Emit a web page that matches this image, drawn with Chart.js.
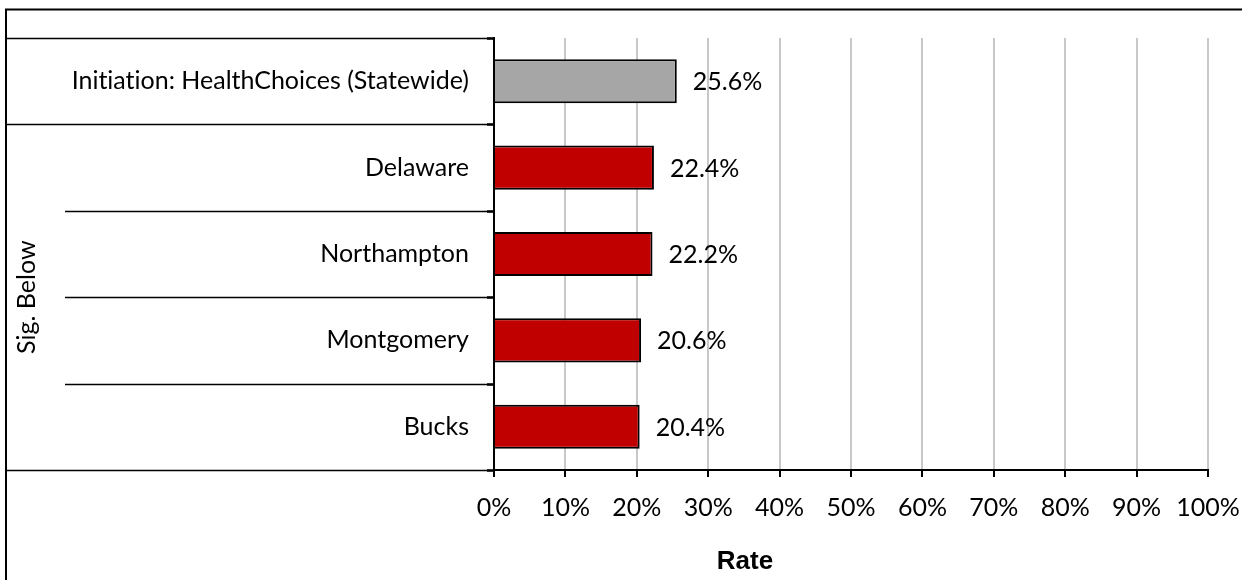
<!DOCTYPE html>
<html>
<head>
<meta charset="utf-8">
<script src="https://cdn.jsdelivr.net/npm/chart.js@4.4.1/dist/chart.umd.min.js"></script>
<style>
  html, body { margin: 0; padding: 0; background: #fff; }
  #wrap { width: 1242px; height: 580px; }
</style>
</head>
<body>
<div id="wrap"><canvas id="c" width="1242" height="580"></canvas></div>
<script>
// Initiation rates, statewide benchmark followed by counties significantly below it
const categories = ['Initiation: HealthChoices (Statewide)', 'Delaware', 'Northampton', 'Montgomery', 'Bucks'];
const rates = [25.6, 22.4, 22.2, 20.6, 20.4];
const rateLabels = ['25.6%', '22.4%', '22.2%', '20.6%', '20.4%'];
const axisTicks = [0, 10, 20, 30, 40, 50, 60, 70, 80, 90, 100];
const groupLabel = 'Sig. Below';
const axisTitle = 'Rate';

const FONT = 'Lato, Carlito, Calibri, sans-serif';
const FONT_SIZE = 25;
const STATE_GRAY = '#a6a6a6';
const COUNTY_RED = '#c00000';

// plain glyph shaping (no "ti" ligature) for all canvas text
const plainText = {
  id: 'plainText',
  beforeDraw(chart) {
    chart.ctx.textRendering = 'optimizeSpeed';
    chart.ctx.fontVariantCaps = 'normal';
  }
};

const decor = {
  id: 'decor',
  afterDraw(chart) {
    const ctx = chart.ctx;
    const ys = chart.scales.y;
    const area = chart.chartArea;
    const axisX = area.left;
    ctx.save();

    // outer frame
    ctx.strokeStyle = '#000';
    ctx.lineWidth = 2;
    ctx.beginPath();
    ctx.moveTo(6, 600);
    ctx.lineTo(6, 9.5);
    ctx.lineTo(1300, 9.5);
    ctx.stroke();

    // row separators in the label column
    const n = categories.length;
    for (let i = 0; i <= n; i++) {
      const y = Math.round(ys.getPixelForValue(i - 0.5)) + 0.5;
      const outer = (i === 0 || i === 1 || i === n);
      ctx.strokeStyle = '#000';
      ctx.lineWidth = 1.5;
      ctx.beginPath();
      ctx.moveTo(outer ? 6 : 65, y);
      ctx.lineTo(axisX, y);
      ctx.stroke();
      ctx.lineWidth = 2.5;
      ctx.beginPath();
      ctx.moveTo(axisX - 7, y);
      ctx.lineTo(axisX, y);
      ctx.stroke();
    }

    // group label for the county rows
    const gTop = ys.getPixelForValue(0.5);
    const gBot = ys.getPixelForValue(n - 0.5);
    ctx.fillStyle = '#000';
    ctx.font = FONT_SIZE + 'px ' + FONT;
    ctx.textAlign = 'center';
    ctx.textBaseline = 'middle';
    ctx.translate(27, (gTop + gBot) / 2);
    ctx.rotate(-Math.PI / 2);
    ctx.fillText(groupLabel, 0, 0);
    ctx.setTransform(1, 0, 0, 1, 0, 0);

    // value labels beyond each bar
    const meta = chart.getDatasetMeta(0);
    ctx.textAlign = 'left';
    ctx.textBaseline = 'middle';
    meta.data.forEach((bar, i) => {
      ctx.fillText(rateLabels[i], bar.x + 16, bar.y + 1);
    });

    // axis title
    ctx.font = 'bold 26px "Liberation Sans", Arial, sans-serif';
    ctx.textAlign = 'center';
    ctx.textBaseline = 'alphabetic';
    ctx.fillText(axisTitle, 745, 569);
    ctx.restore();
  }
};

new Chart(document.getElementById('c'), {
  type: 'bar',
  data: {
    labels: categories,
    datasets: [{
      data: rates,
      backgroundColor: c => c.dataIndex === 0 ? STATE_GRAY : COUNTY_RED,
      borderColor: '#000',
      borderWidth: 2,
      barPercentage: 0.51,
      categoryPercentage: 1
    }]
  },
  options: {
    indexAxis: 'y',
    responsive: false,
    animation: false,
    devicePixelRatio: 1,
    layout: { padding: { top: 38, right: 34, left: 0, bottom: 0 } },
    plugins: { legend: { display: false }, tooltip: { enabled: false } },
    scales: {
      y: {
        type: 'category',
        afterFit: s => { s.width = 494; s.paddingTop = 0; s.paddingBottom = 0; },
        grid: { display: false, drawTicks: false },
        border: { display: true, color: '#000', width: 2 },
        ticks: { color: '#000', padding: 25, font: { family: FONT, size: FONT_SIZE } }
      },
      x: {
        min: axisTicks[0],
        max: axisTicks[axisTicks.length - 1],
        afterBuildTicks: s => { s.ticks = axisTicks.map(v => ({ value: v })); },
        afterFit: s => { s.height = 110; s.paddingLeft = 0; s.paddingRight = 0; },
        grid: { color: '#c8c8c8', lineWidth: 2, tickLength: 7, tickColor: '#000', tickWidth: 2 },
        border: { display: true, color: '#000', width: 2 },
        ticks: {
          color: '#000', padding: 16, maxRotation: 0, autoSkip: false,
          font: { family: FONT, size: FONT_SIZE },
          callback: v => v + '%'
        }
      }
    }
  },
  plugins: [plainText, decor]
});
</script>
</body>
</html>
